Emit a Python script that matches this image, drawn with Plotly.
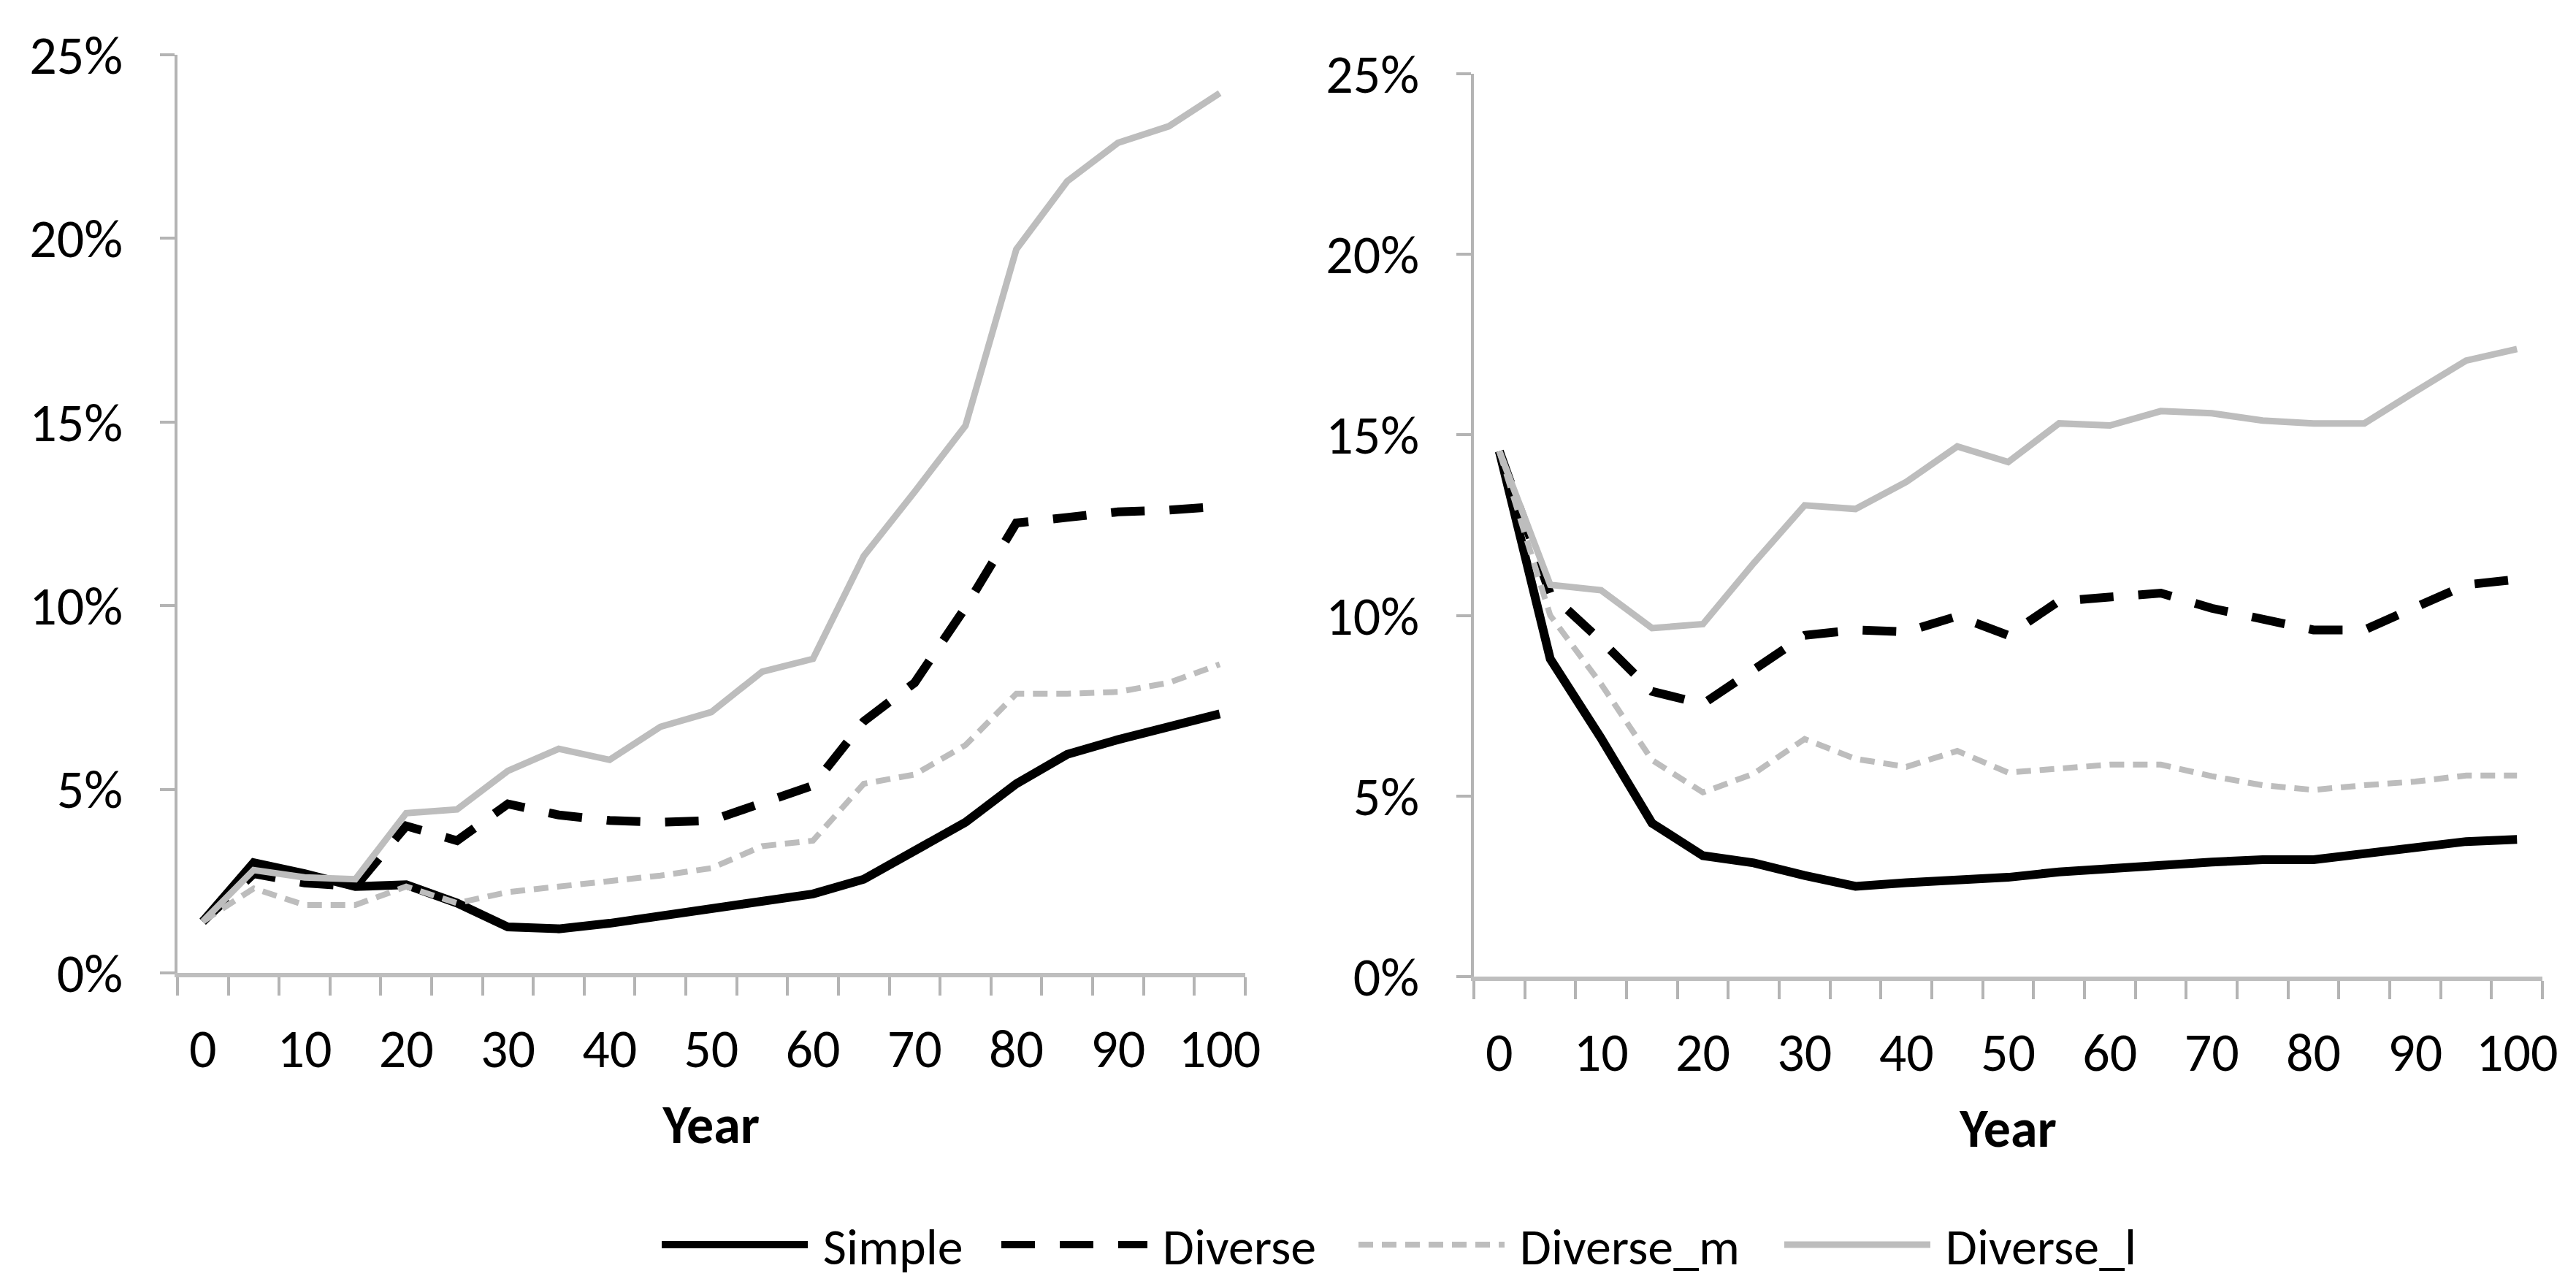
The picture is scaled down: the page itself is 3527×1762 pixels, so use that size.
import plotly.graph_objects as go
from plotly.subplots import make_subplots

years = [0, 5, 10, 15, 20, 25, 30, 35, 40, 45, 50, 55, 60, 65, 70, 75, 80, 85, 90, 95, 100]
x_tick_labels = ["0", "10", "20", "30", "40", "50", "60", "70", "80", "90", "100"]
x_tick_values = [0, 10, 20, 30, 40, 50, 60, 70, 80, 90, 100]
y_tick_values = [0, 0.05, 0.10, 0.15, 0.20, 0.25]
series_names = ["Simple", "Diverse", "Diverse_m", "Diverse_l"]

# Left panel (%)
left_simple = [1.4, 3.0, 2.7, 2.35, 2.4, 1.9, 1.25, 1.2, 1.35, 1.55, 1.75, 1.95, 2.15, 2.55, 3.3, 4.1, 5.15, 5.95, 6.35, 6.7, 7.05]
left_diverse = [1.4, 2.7, 2.45, 2.35, 4.0, 3.6, 4.6, 4.3, 4.15, 4.1, 4.15, 4.6, 5.1, 6.85, 7.9, 9.95, 12.25, 12.4, 12.55, 12.6, 12.7]
left_diverse_m = [1.4, 2.3, 1.85, 1.85, 2.35, 1.9, 2.2, 2.35, 2.5, 2.65, 2.85, 3.45, 3.6, 5.15, 5.4, 6.2, 7.6, 7.6, 7.65, 7.9, 8.4]
left_diverse_l = [1.4, 2.8, 2.6, 2.55, 4.35, 4.45, 5.5, 6.1, 5.8, 6.7, 7.1, 8.2, 8.55, 11.35, 13.1, 14.9, 19.7, 21.55, 22.6, 23.05, 23.95]

# Right panel (%)
right_simple = [14.55, 8.8, 6.6, 4.25, 3.35, 3.15, 2.8, 2.5, 2.6, 2.68, 2.75, 2.9, 3.02, 3.08, 3.17, 3.24, 3.24, 3.4, 3.57, 3.74, 3.8]
right_diverse = [14.55, 10.6, 9.3, 7.9, 7.55, 8.5, 9.45, 9.6, 9.55, 9.98, 9.45, 10.4, 10.5, 10.62, 10.2, 9.92, 9.6, 9.6, 10.25, 10.85, 11.0]
right_diverse_m = [14.55, 10.0, 8.1, 6.0, 5.1, 5.62, 6.58, 6.03, 5.81, 6.25, 5.65, 5.75, 5.87, 5.87, 5.55, 5.3, 5.17, 5.3, 5.4, 5.57, 5.57]
right_diverse_l = [14.55, 10.85, 10.7, 9.65, 9.76, 11.45, 13.05, 12.95, 13.7, 14.68, 14.25, 15.32, 15.26, 15.66, 15.6, 15.4, 15.32, 15.32, 16.2, 17.06, 17.38]

styles = {
    "Simple": dict(color="#000000", width=12, dash="solid"),
    "Diverse": dict(color="#000000", width=12, dash="46px,34px"),
    "Diverse_m": dict(color="#BDBDBD", width=8, dash="20px,12px"),
    "Diverse_l": dict(color="#BDBDBD", width=9, dash="solid"),
}

FONT = "Carlito, 'Liberation Sans Narrow', 'Open Sans', sans-serif"
AXIS_GRAY = "#B4B4B4"
FS = 74
FS_LEG = 70

fig = make_subplots(rows=1, cols=2)

left = [left_simple, left_diverse, left_diverse_m, left_diverse_l]
right = [right_simple, right_diverse, right_diverse_m, right_diverse_l]
legend_ids = ["legend", "legend2", "legend3", "legend4"]

for col, data in ((1, left), (2, right)):
    for name, vals, lid in zip(series_names, data, legend_ids):
        fig.add_trace(
            go.Scatter(
                x=years,
                y=[v / 100 for v in vals],
                mode="lines",
                name="\u00a0" + name,
                line=styles[name],
                showlegend=(col == 1),
                legend=lid,
            ),
            row=1, col=col,
        )

boundaries = [y - 2.5 for y in years] + [102.5]

xaxis_common = dict(
    range=[-2.5, 102.5],
    tickmode="array",
    tickvals=x_tick_values,
    ticktext=x_tick_labels,
    ticks="outside",
    ticklen=25,
    tickcolor="rgba(0,0,0,0)",
    ticklabelstandoff=9,
    showline=True,
    linecolor="#BEBEBE",
    linewidth=6,
    showgrid=False,
    zeroline=False,
    automargin=False,
    tickfont=dict(family=FONT, size=FS, color="#000000"),
    minor=dict(tickmode="array", tickvals=boundaries, ticks="outside", ticklen=25,
               tickwidth=4, tickcolor=AXIS_GRAY, showgrid=False),
    title=dict(text="<b>Year</b>", font=dict(family=FONT, size=FS, color="#000000"), standoff=35),
)
yaxis_common = dict(
    range=[0, 0.25],
    tickmode="array",
    tickvals=y_tick_values,
    tickformat=".0%",
    ticks="outside",
    ticklen=20,
    tickwidth=4,
    tickcolor=AXIS_GRAY,
    ticklabelstandoff=36,
    showline=True,
    linecolor=AXIS_GRAY,
    linewidth=4,
    showgrid=False,
    zeroline=False,
    automargin=False,
    tickfont=dict(family=FONT, size=FS, color="#000000"),
)

W, H = 3527, 1762
symbol_starts = [905, 1370, 1859, 2442]
legend_common = dict(
    orientation="h",
    xanchor="left",
    y=0.008, yanchor="bottom",
    font=dict(family=FONT, size=FS_LEG, color="#000000"),
    itemwidth=200,
    bgcolor="rgba(0,0,0,0)",
)

layout_legends = {
    lid: dict(legend_common, x=(sx - 12) / W)
    for lid, sx in zip(legend_ids, symbol_starts)
}

fig.update_layout(
    width=W,
    height=H,
    margin=dict(l=0, r=0, t=0, b=0),
    paper_bgcolor="white",
    plot_bgcolor="white",
    xaxis=dict(xaxis_common, domain=[0.0666, 0.4811]),
    xaxis2=dict(xaxis_common, domain=[0.5699, 0.9847]),
    yaxis=dict(yaxis_common, domain=[0.2486, 0.9621]),
    yaxis2=dict(yaxis_common, domain=[0.2457, 0.9472]),
    **layout_legends,
)

fig.write_html("out.html")
